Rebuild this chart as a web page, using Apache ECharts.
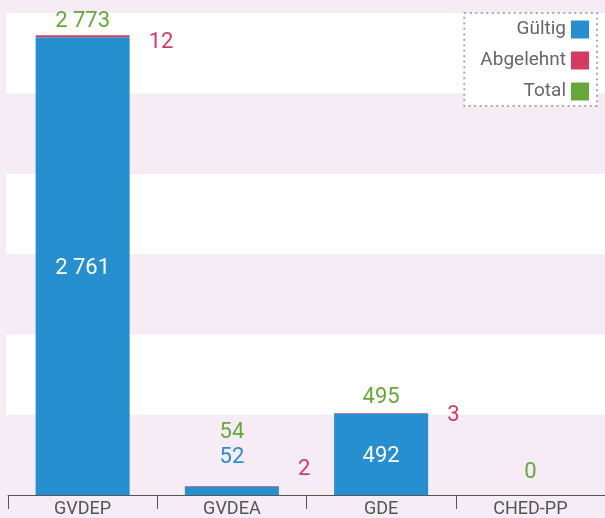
<!DOCTYPE html>
<html><head><meta charset="utf-8">
<script src="https://cdn.jsdelivr.net/npm/echarts@6/dist/echarts.min.js"></script>
<style>html,body{margin:0;padding:0;background:#f6ecf5;} #c{width:605px;height:518px;}</style>
</head><body><div id="c"></div>
<script>
const categories = ['GVDEP', 'GVDEA', 'GDE', 'CHED-PP'];
const gueltig = [2761, 52, 492, 0];
const abgelehnt = [12, 2, 3, 0];
const total = [2773, 54, 495, 0];

const BLUE = '#268fcf', RED = '#d63a62', GREEN = '#67a83b';
const FONT = 'Roboto';
const redOffsets = [6, -17, 2, 0];
const totalDist = [3, 43, 4, 12];

const chart = echarts.init(document.getElementById('c'), null, {renderer: 'canvas'});
const fmt = v => String(v).replace(/\B(?=(\d{3})+(?!\d))/g, ' ');

const gData = gueltig.map(v => ({
  value: v,
  label: v === 0 ? {show: false} : (v >= 200
    ? {show: true, position: 'inside', offset: [0, 2], color: '#fff'}
    : {show: true, position: 'top', distance: 18, color: BLUE})
}));
const aData = abgelehnt.map((v, i) => ({
  value: v,
  label: v === 0 ? {show: false} : {show: true, position: 'right', distance: 19, offset: [0, redOffsets[i]], color: RED}
}));
const tData = total.map((v, i) => ({
  value: v,
  label: {show: true, position: 'top', distance: totalDist[i], color: GREEN}
}));

chart.setOption({
  animation: false,
  backgroundColor: '#f6ecf5',
  textStyle: {fontFamily: FONT},
  grid: [
    {left: 8, right: -3, top: 0, bottom: 23, containLabel: false},
    {left: 6, right: 0, top: 13, bottom: 23, containLabel: false}
  ],
  xAxis: [
    {type: 'category', data: categories, gridIndex: 0,
     axisLine: {lineStyle: {color: '#555', width: 1}},
     axisTick: {show: true, length: 14, lineStyle: {color: '#555'}},
     axisLabel: {color: '#555', fontSize: 18, margin: 5, fontFamily: FONT}},
    {type: 'value', gridIndex: 1, show: false, min: 0, max: 1}
  ],
  yAxis: [
    {type: 'value', gridIndex: 0, min: 0, max: 2985, show: false, splitLine: {show: false}},
    {type: 'value', gridIndex: 1, min: 0, max: 6, interval: 1,
     axisLine: {show: false}, axisTick: {show: false}, axisLabel: {show: false},
     splitLine: {show: false},
     splitArea: {show: true, areaStyle: {color: ['#f6ecf5', '#ffffff']}}}
  ],
  legend: {
    orient: 'vertical', right: 8, top: 13, align: 'right',
    icon: 'rect', itemWidth: 18, itemHeight: 18, itemGap: 12,
    padding: [7, 8, 5, 16],
    backgroundColor: '#fff',
    borderColor: '#aaaaaa', borderWidth: 2, borderType: [2, 3.5],
    textStyle: {color: '#666', fontSize: 19, fontFamily: FONT},
    data: ['Gültig', 'Abgelehnt', 'Total']
  },
  series: [
    {name: 'Gültig', type: 'bar', stack: 's', xAxisIndex: 0, yAxisIndex: 0,
     barWidth: 94, itemStyle: {color: BLUE},
     label: {fontSize: 22, fontFamily: FONT, formatter: p => fmt(p.value)},
     data: gData},
    {name: 'Abgelehnt', type: 'bar', stack: 's', xAxisIndex: 0, yAxisIndex: 0,
     barWidth: 94, itemStyle: {color: RED},
     label: {fontSize: 22, fontFamily: FONT, formatter: p => fmt(p.value)},
     data: aData},
    {name: 'Total', type: 'scatter', xAxisIndex: 0, yAxisIndex: 0,
     symbolSize: 0, itemStyle: {color: GREEN, opacity: 1},
     label: {fontSize: 22, fontFamily: FONT, formatter: p => fmt(p.value)},
     data: tData}
  ]
});
</script></body></html>
